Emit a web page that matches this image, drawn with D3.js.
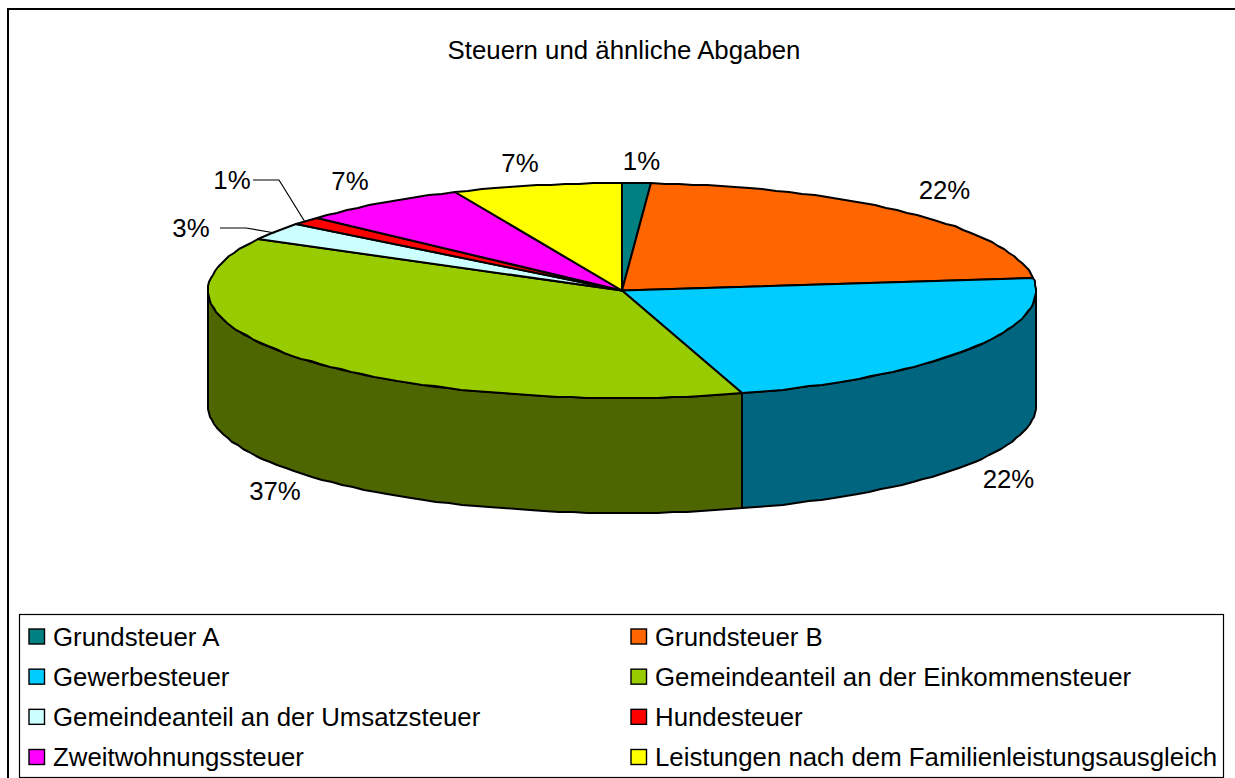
<!DOCTYPE html>
<html><head><meta charset="utf-8">
<script src="https://cdnjs.cloudflare.com/ajax/libs/d3/7.8.5/d3.min.js"></script>
<style>html,body{margin:0;padding:0;background:#fff}svg{display:block}text{font-family:"Liberation Sans",Arial,sans-serif;fill:#000}</style>
</head><body><div id="c"></div>
<script>
const categories=["Grundsteuer A","Grundsteuer B","Gewerbesteuer","Gemeindeanteil an der Einkommensteuer","Gemeindeanteil an der Umsatzsteuer","Hundesteuer","Zweitwohnungssteuer","Leistungen nach dem Familienleistungsausgleich"];
const values=[1.1,22,22.2,37.6,2.7,1.2,6.6,6.6];
const labels=["1%","22%","22%","37%","3%","1%","7%","7%"];
const colors=["#008080","#FF6600","#00CCFF","#99CC00","#CCFFFF","#FF0000","#FF00FF","#FFFF00"];
const labelPos=[[641.5,161],[944.5,190],[1008.5,479],[275,491],[191,228],[232,180],[350,181],[520,163]];
const leaders={4:[[220,228],[246,228],[275,233]],5:[[253,180],[279,180],[305,222]]};

const W=1235,H=778,depth=115,fs=25.8;
const x=d3.scaleLinear().domain([-1,1]).range([208,1036]);
const y=d3.scaleLinear().domain([-1,1]).range([183,398]);
const svg=d3.select("#c").append("svg").attr("width",W).attr("height",H);
svg.append("rect").attr("x",8).attr("y",9).attr("width",W).attr("height",H).attr("fill","#fff").attr("stroke","#000").attr("stroke-width",2);

svg.append("text").attr("x",624).attr("y",50).attr("text-anchor","middle").attr("dominant-baseline","central").attr("font-size",fs).text("Steuern und ähnliche Abgaben");

const pie=d3.pie().sort(null).value(d=>d.v);
const arcs=pie(values.map((v,i)=>({v,i})));
const px=a=>Math.round(x(Math.sin(a))), py=a=>Math.round(y(-Math.cos(a)));
const line=d3.line();
const samples=(a0,a1)=>{const n=Math.max(2,Math.ceil((a1-a0)/(Math.PI/90)));return d3.range(n+1).map(k=>a0+(a1-a0)*k/n);};
const dark=c=>{const r=d3.rgb(c);return d3.rgb(r.r/2,r.g/2,r.b/2).formatHex();};
const apply=s=>s.attr("stroke","#000").attr("stroke-width",2).attr("stroke-linejoin","round");

// sides (front half only)
arcs.forEach(d=>{
  const a0=Math.max(d.startAngle,Math.PI/2),a1=Math.min(d.endAngle,3*Math.PI/2);
  if(a1<=a0)return;
  const s=samples(a0,a1);
  const top=s.map(a=>[px(a),py(a)]);
  const bot=s.slice().reverse().map(a=>[px(a),py(a)+depth]);
  apply(svg.append("path").attr("d",line(top.concat(bot))+"Z").attr("fill",dark(colors[d.data.i])));
});
// top faces
arcs.forEach(d=>{
  const pts=[[x(0),y(0)]].concat(samples(d.startAngle,d.endAngle).map(a=>[px(a),py(a)]));
  apply(svg.append("path").attr("d",line(pts)+"Z").attr("fill",colors[d.data.i]));
});
// leaders
Object.values(leaders).forEach(p=>svg.append("path").attr("d",line(p)).attr("fill","none").attr("stroke","#000").attr("stroke-width",1.2));
// labels
labels.forEach((t,i)=>svg.append("text").attr("x",labelPos[i][0]).attr("y",labelPos[i][1]).attr("text-anchor","middle").attr("dominant-baseline","central").attr("font-size",fs).text(t));

// legend
const lg=svg.append("g");
lg.append("rect").attr("x",19.5).attr("y",614.5).attr("width",1204).attr("height",163).attr("fill","#fff").attr("stroke","#000").attr("stroke-width",1.2);
const colX=d3.scalePoint().domain([0,1]).range([29,631]);
const rowY=d3.scalePoint().domain([0,1,2,3]).range([636.5,757]);
categories.forEach((c,i)=>{
  const cx=colX(i%2),cy=rowY(Math.floor(i/2));
  lg.append("rect").attr("x",cx).attr("y",cy-7.5).attr("width",15.5).attr("height",15).attr("fill",colors[i]).attr("stroke","#000").attr("stroke-width",1.4);
  lg.append("text").attr("x",cx+24).attr("y",cy).attr("dominant-baseline","central").attr("font-size",fs).text(c);
});
</script></body></html>
